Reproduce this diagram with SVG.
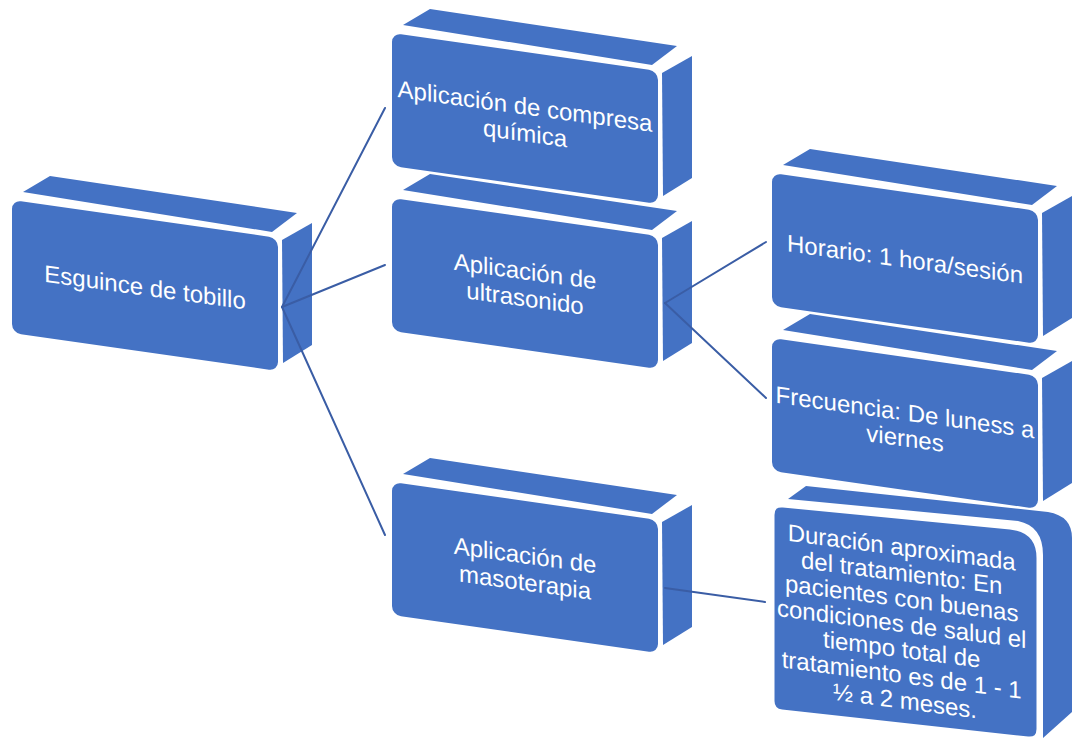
<svg xmlns="http://www.w3.org/2000/svg" xmlns:xlink="http://www.w3.org/1999/xlink" width="1074" height="744" viewBox="0 0 1074 744">
  <style>
    .face { fill: #4472C4; }
    .front { fill: #4472C4; }
    .lbl { font-family: "Liberation Sans", Arial, sans-serif; font-size: 24px; fill: #FFFFFF; text-anchor: middle; }
    .link { stroke: #3A5DA5; stroke-width: 2; fill: none; stroke-linecap: round; }
  </style>
  <defs>
    <!-- extruded block: top face, side face, skewed front face (front top-left at 0,0) -->
    <g id="block">
      <polygon class="face" points="11,-8 38,-24 285,13 260,32"/>
      <polygon class="face" points="270,40 300,23 300,145 271,163"/>
      <rect class="front" x="0" y="0" width="266" height="133" rx="9" transform="skewY(8.13)"/>
    </g>
  </defs>

  <rect width="1074" height="744" fill="#FFFFFF"/>

  <g id="n-esguince">
    <use xlink:href="#block" href="#block" x="12" y="200"/>
    <text class="lbl" transform="translate(145,285.5) skewY(7.8)"><tspan x="0" y="10">Esguince de tobillo</tspan></text>
  </g>

  <g id="n-compresa">
    <use xlink:href="#block" href="#block" x="392" y="33"/>
    <text class="lbl" transform="translate(525,118.5) skewY(7.8)"><tspan x="0" y="-4">Aplicación de compresa</tspan><tspan x="0" y="23">química</tspan></text>
  </g>

  <g id="n-ultrasonido">
    <use xlink:href="#block" href="#block" x="392" y="198"/>
    <text class="lbl" transform="translate(525,283.5) skewY(7.8)"><tspan x="0" y="-4">Aplicación de</tspan><tspan x="0" y="23">ultrasonido</tspan></text>
  </g>

  <g id="n-masoterapia">
    <use xlink:href="#block" href="#block" x="392" y="482"/>
    <text class="lbl" transform="translate(525,567.5) skewY(7.8)"><tspan x="0" y="-4">Aplicación de</tspan><tspan x="0" y="23">masoterapia</tspan></text>
  </g>

  <g id="n-horario">
    <use xlink:href="#block" href="#block" x="772" y="173"/>
    <text class="lbl" transform="translate(905,258.5) skewY(7.8)"><tspan x="0" y="9">Horario: 1 hora/sesión</tspan></text>
  </g>

  <g id="n-frecuencia">
    <use xlink:href="#block" href="#block" x="772" y="338"/>
    <text class="lbl" transform="translate(905,423.5) skewY(7.8)"><tspan x="0" y="-3">Frecuencia: De luness a</tspan><tspan x="0" y="23">viernes</tspan></text>
  </g>

  <g id="n-duracion">
    <path class="face" d="M788,499 L806,486 L1048,512 Q1072,516 1072,538 L1072,712 L1043,738 L1043,555 Q1043,526 1018,521 Z"/>
    <path class="front" stroke="#FFFFFF" stroke-width="3" d="M773,515 Q773,505 783,506 L1010,528 Q1038,531 1038,558 L1038,729 Q1038,739 1028,738 L782,711 Q773,710 773,701 Z"/>
    <text class="lbl" transform="translate(905,621) skewY(7.4)">
      <tspan x="0" y="-65">Duración aproximada</tspan>
      <tspan x="0" y="-39.5">del tratamiento: En</tspan>
      <tspan x="0" y="-14">pacientes con buenas</tspan>
      <tspan x="0" y="11.5">condiciones de salud el</tspan>
      <tspan x="0" y="37">tiempo total de</tspan>
      <tspan x="0" y="62.5">tratamiento es de 1 - 1</tspan>
      <tspan x="0" y="88">½ a 2 meses.</tspan>
    </text>
  </g>

  <g id="connectors">
    <path class="link" d="M282,307 L385,108"/>
    <path class="link" d="M282,307 L385,265"/>
    <path class="link" d="M282,307 L385,535"/>
    <path class="link" d="M665,303 L766,242"/>
    <path class="link" d="M665,303 L766,398"/>
    <path class="link" d="M665,588 L765,602"/>
  </g>
</svg>
